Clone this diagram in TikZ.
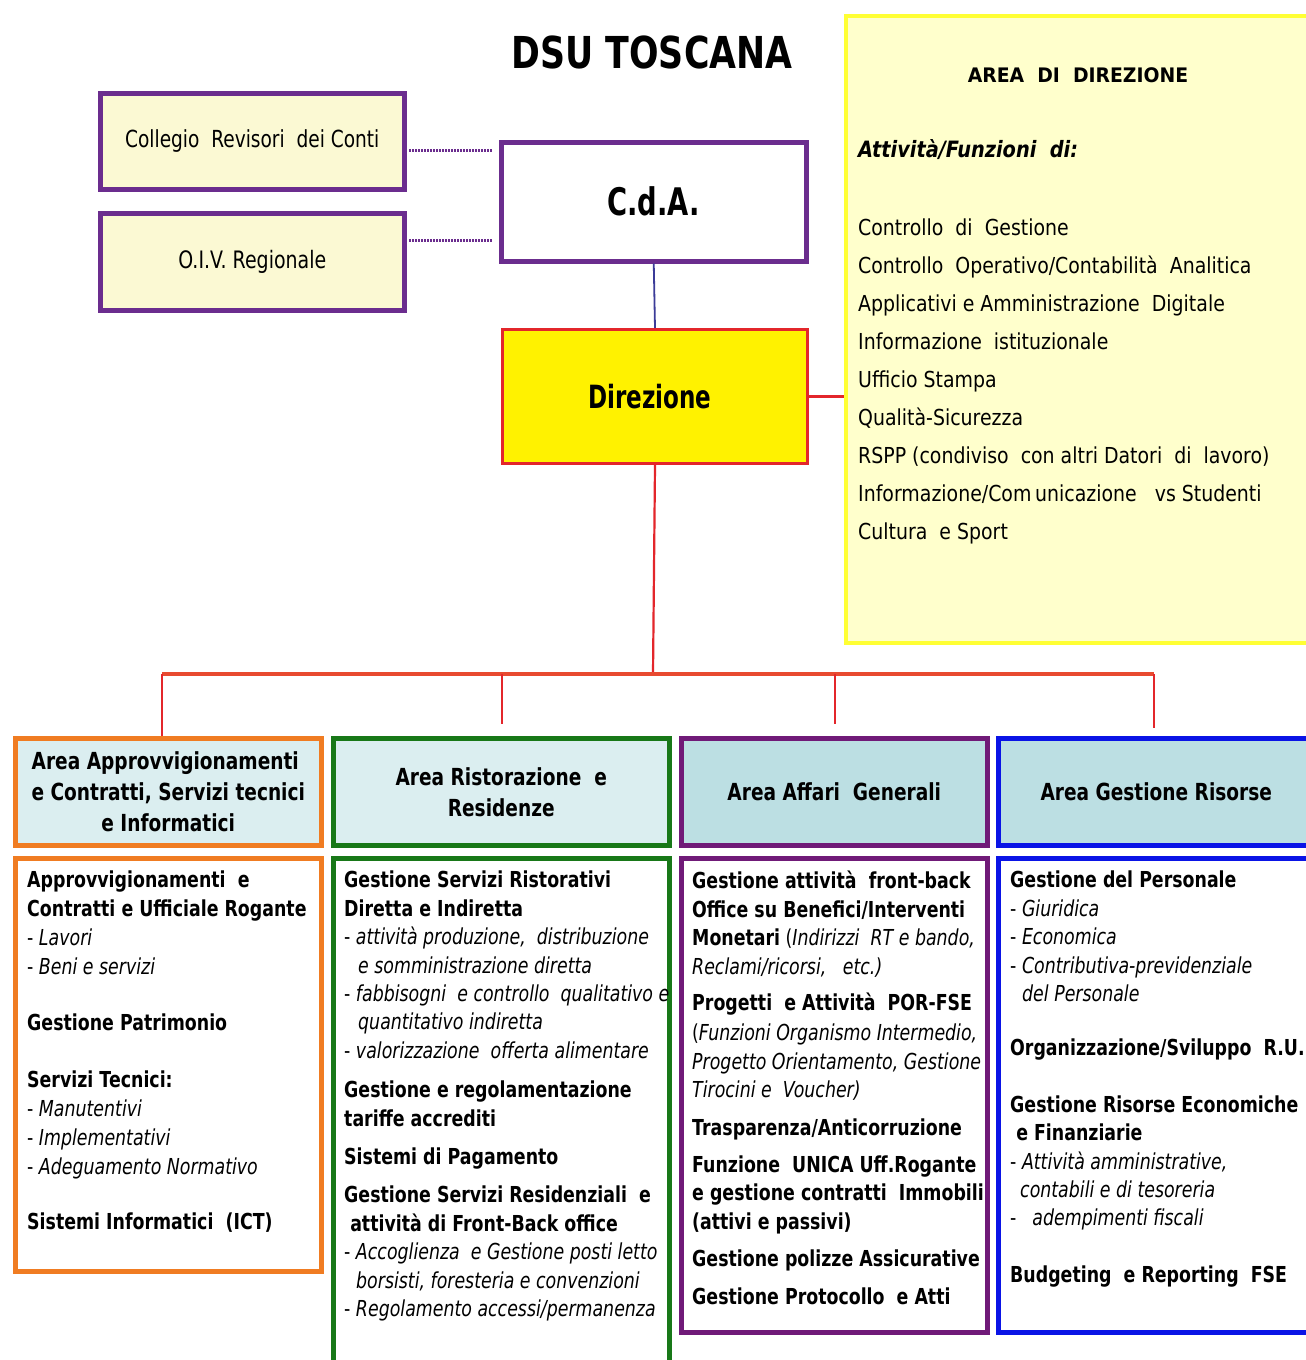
\documentclass[tikz,border=0pt]{standalone}
\usepackage{fontspec}
\setmainfont{DejaVu Sans}[FakeStretch=0.79]
\newfontfamily\widefont{DejaVu Sans}[FakeStretch=0.86]
\newfontfamily\areafont{DejaVu Sans}[FakeStretch=0.94]
\newfontfamily\narrowfont{DejaVu Sans}[FakeStretch=0.72]
\newcommand\fsz[2]{\fontsize{#1}{#2}\selectfont}
\definecolor{pur}{HTML}{6B2D8E}
\definecolor{purb}{HTML}{701A78}
\definecolor{lyel}{HTML}{FBF9D3}
\definecolor{ayel}{HTML}{FFFFCC}
\definecolor{ybord}{HTML}{FFFF33}
\definecolor{dred}{HTML}{E3262B}
\definecolor{orng}{HTML}{F07C22}
\definecolor{grn}{HTML}{187818}
\definecolor{blu}{HTML}{0A14E6}
\definecolor{hlA}{HTML}{DBEEF0}
\definecolor{hlB}{HTML}{BCDFE3}
\definecolor{rline}{HTML}{E84A30}
\definecolor{navyl}{HTML}{3B3B98}
\tikzset{
  boxn/.style={draw=#1, line width=4.5pt, anchor=north west, inner sep=0pt, align=center},
  headn/.style={font=\bfseries\fsz{23.5}{31}},
  txtn/.style={anchor=north west, inner sep=0pt, align=left, font=\fsz{22}{28.4}},
  redl/.style={draw=dred, line width=2.2pt},
  busl/.style={draw=rline, line width=4pt},
  dotl/.style={draw=pur, line width=3pt, dash pattern=on 1.5pt off 1.5pt}
}
\begin{document}
\begin{tikzpicture}[x=1pt,y=-1pt]
\clip (0,0) rectangle (1306,1360);
\fill[white] (0,0) rectangle (1306,1360);

% title
\node[font=\bfseries\fsz{44}{50}] (title) at (652,52) {DSU TOSCANA};

% top-left boxes
\node[boxn=pur, fill=lyel, minimum width=304pt, minimum height=96pt, font=\fsz{23.5}{28}] (coll) at (98,91) {Collegio\ \ Revisori\ \ dei Conti};
\node[boxn=pur, fill=lyel, minimum width=304pt, minimum height=97pt, font=\fsz{24}{28}] (oiv) at (98,211) {O.I.V.\ Regionale};
\node[boxn=pur, fill=white, minimum width=305pt, minimum height=119pt, font=\narrowfont\bfseries\fsz{38}{44}] (cda) at (499,140) {C.d.A.};
\node[boxn=dred, line width=3pt, fill=yellow, minimum width=305pt, minimum height=134pt, font=\narrowfont\bfseries\fsz{32}{38}] (dir) at (501,328) {Direzione\hspace*{10pt}};

% area di direzione
\node[boxn=ybord, line width=4pt, fill=ayel, minimum width=469pt, minimum height=627pt] (area) at (844,14) {};
\node[font=\areafont\bfseries\fsz{20}{24}] (areat) at (1078,75) {AREA\ \ DI\ \ DIREZIONE};
\node[anchor=west, inner sep=0pt, font=\widefont\bfseries\itshape\fsz{22.5}{28}] (attf) at (858,150) {Attività/Funzioni\ \ di:};
\node[anchor=north west, inner sep=0pt, align=left, font=\widefont\fsz{22}{37.9}] (alist) at (858,219) {Controllo\ \ di\ \ Gestione\\
Controllo\ \ Operativo/Contabilità\ \ Analitica\\
Applicativi e Amministrazione\ \ Digitale\\
Informazione\ \ istituzionale\\
Ufficio Stampa\\
Qualità-Sicurezza\\
RSPP\ (condiviso\ \ con altri\ Datori\ \ di\ \ lavoro)\\
Informazione/Com\,unicazione\ \ \ vs Studenti\\
Cultura\ \ e Sport};

% connectors top
\coordinate (d1a) at (409,150);
\coordinate (d1b) at (493,150);
\coordinate (d2a) at (409,240);
\coordinate (d2b) at (493,240);
\draw[dotl] (d1a) -- (d1b);
\draw[dotl] (d2a) -- (d2b);
\draw[draw=navyl, line width=1.8pt] (cda.south) -- (dir.north);
\draw[redl, line width=3pt] (dir.east) -- (dir.east -| area.west);

% header boxes
\node[boxn=orng, fill=hlA, minimum width=306pt, minimum height=107pt, headn] (h1) at (13,736) {Area Approvvigionamenti\hspace*{6pt}\\e Contratti, Servizi tecnici\hspace*{6pt}\\e Informatici};
\node[boxn=grn, fill=hlA, minimum width=336pt, minimum height=107pt, headn] (h2) at (331,736) {Area Ristorazione\ \ e\\Residenze};
\node[boxn=purb, fill=hlB, minimum width=306pt, minimum height=107pt, headn] (h3) at (679,736) {Area Affari\ \ Generali};
\node[boxn=blu, fill=hlB, minimum width=316pt, minimum height=107pt, headn] (h4) at (996,736) {Area Gestione Risorse};

% bus
\coordinate (bus) at (653,674);
\coordinate (bA) at (162,674);
\coordinate (bB) at (502,674);
\coordinate (bC) at (835,674);
\coordinate (bD) at (1154,674);
\draw[redl] (dir.south) -- (bus);
\draw[busl] (bA) -- (bD);
\draw[redl] (bA) -- (h1.north -| bA);
\draw[redl, shorten >=12pt] (bB) -- (h2.north -| bB);
\draw[redl, shorten >=12pt] (bC) -- (h3.north -| bC);
\draw[redl, shorten >=8pt] (bD) -- (h4.north -| bD);

% content boxes
\node[boxn=orng, fill=white, minimum width=306pt, minimum height=413pt] (c1) at (13,856) {};
\node[boxn=grn, fill=white, minimum width=336pt, minimum height=520pt] (c2) at (331,856) {};
\node[boxn=purb, fill=white, minimum width=306pt, minimum height=474pt] (c3) at (679,856) {};
\node[boxn=blu, fill=white, minimum width=316pt, minimum height=474pt] (c4) at (996,856) {};

\node[txtn] (t1) at (27,871) {\textbf{Approvvigionamenti\ \ e}\\
\textbf{Contratti\ e Ufficiale Rogante}\\[1pt]
- \textit{Lavori}\\
- \textit{Beni e servizi}\\[28pt]
\textbf{Gestione Patrimonio}\\[29pt]
\textbf{Servizi Tecnici:}\\
- \textit{Manutentivi}\\[1pt]
- \textit{Implementativi}\\
- \textit{Adeguamento Normativo}\\[27pt]
\textbf{Sistemi Informatici\ \ (ICT)}};

\node[txtn] (t2) at (344,871) {\textbf{Gestione Servizi Ristorativi}\\
\textbf{Diretta e Indiretta}\\
- \textit{attività produzione,\ \ distribuzione}\\
\hspace*{14pt}\textit{e somministrazione diretta}\\
- \textit{fabbisogni\ \ e controllo\ \ qualitativo\ e}\\
\hspace*{14pt}\textit{quantitativo indiretta}\\
- \textit{valorizzazione\ \ offerta alimentare}\\[11pt]
\textbf{Gestione e regolamentazione}\\
\textbf{tariffe accrediti}\\[10pt]
\textbf{Sistemi di Pagamento}\\[10pt]
\textbf{Gestione Servizi Residenziali\ \ e}\\
\textbf{\ attività\ di Front-Back office}\\
- \textit{Accoglienza\ \ e Gestione posti letto}\\
\hspace*{12pt}\textit{borsisti, foresteria e convenzioni}\\
- \textit{Regolamento accessi/permanenza}};

\node[txtn] (t3) at (692,871) {\textbf{Gestione attività\ \ front-back}\\
\textbf{Office su Benefici/Interventi}\\
\textbf{Monetari} (\textit{Indirizzi\ \ RT e bando,}\\
\textit{Reclami/ricorsi,\ \ \ etc.)}\\[8pt]
\textbf{Progetti\ \ e Attività\ \ POR-FSE}\\[2pt]
(\textit{Funzioni\ Organismo\ Intermedio,}\\
\textit{Progetto Orientamento,\ Gestione}\\
\textit{Tirocini\ e\ \ Voucher)}\\[9pt]
\textbf{Trasparenza/Anticorruzione}\\[9pt]
\textbf{Funzione\ \ UNICA Uff.Rogante}\\
\textbf{e gestione contratti\ \ Immobili}\\
\textbf{(attivi e passivi)}\\[9pt]
\textbf{Gestione polizze Assicurative}\\[9pt]
\textbf{Gestione Protocollo\ \ e Atti}};

\node[txtn] (t4) at (1010,871) {\textbf{Gestione del Personale}\\
- \textit{Giuridica}\\
- \textit{Economica}\\
- \textit{Contributiva-previdenziale}\\
\hspace*{12pt}\textit{del Personale}\\[26pt]
\textbf{Organizzazione/Sviluppo\ \ R.U.}\\[28pt]
\textbf{Gestione Risorse Economiche}\\
\textbf{\ e Finanziarie}\\
- \textit{Attività\ amministrative,}\\
\hspace*{10pt}\textit{contabili e di tesoreria}\\
-\hspace*{16pt}\textit{adempimenti\ fiscali}\\[28pt]
\textbf{Budgeting\ \ e Reporting\ \ FSE}};
\end{tikzpicture}
\end{document}
